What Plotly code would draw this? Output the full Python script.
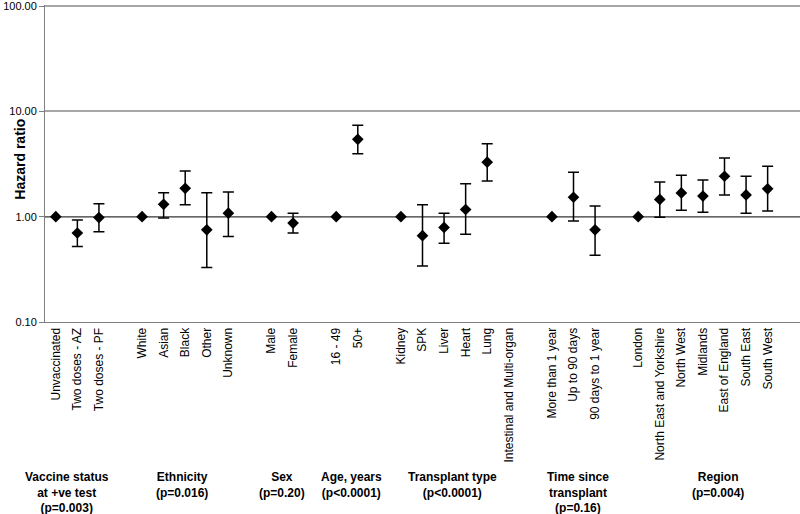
import plotly.graph_objects as go

# groups of categories along the x axis, each followed by a blank slot
group_titles = ["<b>Vaccine status</b><br><b>at +ve test</b><br><b>(p=0.003)</b>",
                "<b>Ethnicity</b><br><b>(p=0.016)</b>",
                "<b>Sex</b><br><b>(p=0.20)</b>",
                "<b>Age, years</b><br><b>(p<0.0001)</b>",
                "<b>Transplant type</b><br><b>(p<0.0001)</b>",
                "<b>Time since</b><br><b>transplant</b><br><b>(p=0.16)</b>",
                "<b>Region</b><br><b>(p=0.004)</b>"]
group_sizes = [3, 5, 2, 2, 6, 3, 7]

categories = ["Unvaccinated", "Two doses - AZ", "Two doses - PF",
              "White", "Asian", "Black", "Other", "Unknown",
              "Male", "Female",
              "16 - 49", "50+",
              "Kidney", "SPK", "Liver", "Heart", "Lung", "Intestinal and Multi-organ",
              "More than 1 year", "Up to 90 days", "90 days to 1 year",
              "London", "North East and Yorkshire", "North West", "Midlands",
              "East of England", "South East", "South West"]
hazard_ratio = [1.00, 0.70, 0.98,
                1.00, 1.31, 1.86, 0.75, 1.08,
                1.00, 0.87,
                1.00, 5.43,
                1.00, 0.66, 0.79, 1.17, 3.29, None,
                1.00, 1.53, 0.75,
                1.00, 1.46, 1.68, 1.57, 2.42, 1.61, 1.84]
ci_lower = [None, 0.52, 0.72,
            None, 0.97, 1.30, 0.33, 0.65,
            None, 0.70,
            None, 3.96,
            None, 0.34, 0.56, 0.68, 2.18, None,
            None, 0.91, 0.43,
            None, 0.99, 1.15, 1.10, 1.61, 1.08, 1.13]
ci_upper = [None, 0.93, 1.33,
            None, 1.69, 2.72, 1.69, 1.72,
            None, 1.08,
            None, 7.38,
            None, 1.30, 1.08, 2.06, 4.93, None,
            None, 2.64, 1.26,
            None, 2.14, 2.47, 2.23, 3.61, 2.42, 3.01]

# slot positions, leaving one empty slot between groups
xpos = []
start = 0
for n in group_sizes:
    xpos += list(range(start, start + n))
    start += n + 1
n_slots = start - 1

ref_x, ref_y = [], []
ci_x, ci_y, err_up, err_dn = [], [], [], []
for x, hr, lo, hi in zip(xpos, hazard_ratio, ci_lower, ci_upper):
    if hr is None:
        continue
    if lo is None:
        ref_x.append(x); ref_y.append(hr)
    else:
        ci_x.append(x); ci_y.append(hr)
        err_up.append(hi - hr); err_dn.append(hr - lo)

font = "Liberation Sans, Arial, sans-serif"
fig = go.Figure()

# reference line at HR = 1
fig.add_trace(go.Scatter(x=[-0.5, n_slots + 0.5], y=[1, 1], mode="lines",
                         line=dict(color="#5a5a5a", width=1), hoverinfo="skip"))
fig.add_trace(go.Scatter(x=ref_x, y=ref_y, mode="markers",
                         marker=dict(symbol="diamond", size=9, color="black")))
fig.add_trace(go.Scatter(x=ci_x, y=ci_y, mode="markers",
                         marker=dict(symbol="diamond", size=9, color="black"),
                         error_y=dict(type="data", symmetric=False, array=err_up,
                                      arrayminus=err_dn, color="black",
                                      thickness=1.5, width=5.5)))

# group headings under the category labels
group_label_x = [0.54, 5.86, 10.5, 13.7, 18.4, 24.2, 30.7]
for gx, title in zip(group_label_x, group_titles):
    fig.add_annotation(x=gx, xref="x", y=-0.461, yref="paper", yanchor="top",
                       text=title, showarrow=False, align="center",
                       font=dict(family=font, size=12, color="black"))

fig.add_annotation(x=-0.046, xref="paper", y=0.513, yref="paper",
                   text="<b>Hazard ratio</b>", textangle=-90, showarrow=False,
                   font=dict(family=font, size=14, color="black"))

fig.update_layout(
    width=800, height=514,
    margin=dict(l=45, r=0, t=5, b=192),
    plot_bgcolor="white", paper_bgcolor="white",
    showlegend=False,
    font=dict(family=font, color="black"),
)
fig.update_xaxes(range=[-0.5, n_slots + 0.5], tickvals=xpos, ticktext=categories,
                 tickangle=-90, tickfont=dict(size=12, family=font, color="black"),
                 showgrid=False, zeroline=False, showline=True, automargin=False,
                 linecolor="#7f7f7f", linewidth=1, ticks="")
fig.update_yaxes(type="log", range=[-1, 2.01], tickvals=[0.1, 1, 10, 100],
                 tickformat=".2f", tickfont=dict(size=11, family=font, color="black"),
                 showgrid=True, gridcolor="#a6a6a6", gridwidth=2, automargin=False,
                 ticklabeloverflow="allow",
                 showline=True, linecolor="#7f7f7f", linewidth=1,
                 ticks="outside", ticklen=5, tickcolor="#7f7f7f")

# page body has a default 8px margin; drop it so the figure sits at the corner
fig.write_html("out.html", config={"displayModeBar": False},
               post_script="document.body.style.margin='0';")
